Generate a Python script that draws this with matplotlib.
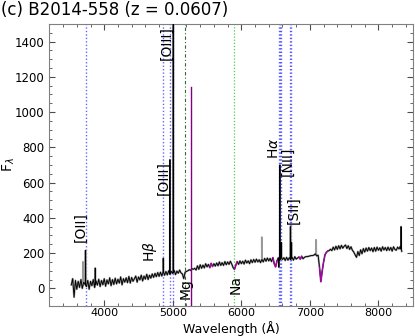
import numpy as np
import matplotlib
matplotlib.use("Agg")
import matplotlib.pyplot as plt
from matplotlib.ticker import MultipleLocator

# ---------------- data ----------------
wave_start, wave_step = 3520, 20
cont_flux = [
    20, 55, -50, 45, -5, 40, 5, 50, 0, 35,
    25, 10, 45, -5, 40, 15, 50, 5, 42, 18,
    52, 10, 45, 20, 55, 12, 48, 25, 60, 15,
    50, 22, 58, 25, 52, 30, 65, 20, 55, 35,
    60, 32, 68, 30, 62, 40, 55, 70, 35, 65,
    48, 75, 42, 70, 52, 80, 50, 75, 58, 82,
    62, 85, 66, 90, 68, 92, 70, 95, 74, 96,
    76, 100, 80, 96, 84, 102, 78, 98, 86, 104,
    88, 82, 55, 92, 96, 100, 106, 102, 112, 108,
    114, 104, 128, 108, 134, 114, 132, 116, 140, 122,
    136, 118, 142, 124, 140, 126, 144, 128, 150, 130,
    146, 130, 152, 134, 150, 136, 154, 138, 118, 108,
    132, 152, 136, 156, 140, 154, 138, 160, 144, 156,
    140, 162, 146, 164, 148, 166, 150, 162, 146, 164,
    150, 170, 154, 172, 156, 170, 152, 174, 140, 122,
    156, 174, 160, 176, 164, 174, 158, 176, 160, 174,
    164, 176, 160, 180, 166, 172, 178, 166, 182, 168,
    176, 180, 180, 182, 184, 186, 186, 189, 196, 184,
    188, 120, 38, 100, 150, 190, 204, 212, 214, 222,
    214, 234, 218, 239, 221, 242, 224, 244, 228, 239,
    246, 226, 242, 221, 236, 216, 206, 190, 176, 209,
    186, 219, 196, 226, 206, 229, 211, 232, 214, 229,
    208, 232, 211, 234, 216, 230, 211, 236, 218, 232,
    214, 234, 216, 232, 211, 236, 221, 216, 234, 224,
    238, 210,
]
# emission spikes seen in both spectra
line_wave = [3727, 3869, 4861, 4959, 5007, 6548, 6563, 6583, 6717, 6731, 8330]
line_peak = [215, 115, 170, 730, 2200, 120, 700, 260, 350, 260, 350]
# spikes only in the grey (observed) spectrum
grey_wave = [3690, 6300, 7090]
grey_peak = [150, 290, 275]
# bad-pixel spike (masked, purple)
bad_wave = [5268, 5268]
bad_flux = [-250, 1145]
# masked wavelength ranges (purple)
mask_ranges = [(5540, 5580), (5900, 5950), (6460, 6520),
               (6840, 6880), (7130, 7260)]

# reference lines
em_lines = [3727, 4861, 4959, 5007, 6548, 6563, 6583, 6717, 6731]
abs_lines = {"Mg": 5175, "Na": 5893}

labels = [
    ("[OII]", 3651, 349),
    (r"H$\beta$", 4670, 211),
    ("[OIII]", 4870, 628),
    ("[OIII]", 4916, 1389),
    ("Mg", 5193, 0),
    ("Na", 5919, 23),
    (r"H$\alpha$", 6471, 794),
    ("[NII]", 6675, 720),
    ("[SII]", 6762, 446),
]

title = "(c) B2014-558 (z = 0.0607)"

# ---------------- build spectrum ----------------
cont_flux = np.array(cont_flux, dtype=float)
wave = wave_start + wave_step * np.arange(len(cont_flux))


def add_spikes(w, f, sw, sp):
    ww, ff = list(w), list(f)
    for lw_, pk in zip(sw, sp):
        c = np.interp(lw_, w, f)
        ww += [lw_ - 2, lw_, lw_ + 2]
        ff += [c, pk, c]
    o = np.argsort(ww, kind="stable")
    return np.array(ww, dtype=float)[o], np.array(ff, dtype=float)[o]


bw, bf = add_spikes(wave, cont_flux, line_wave, line_peak)
gw, gf = add_spikes(bw, bf, grey_wave, grey_peak)

# ---------------- plot ----------------
fig = plt.figure(figsize=(4.15, 3.36), dpi=100)
ax = fig.add_axes([0.119, 0.0893, 0.8755, 0.8393])

for lam in em_lines:
    ax.axvline(lam, color="blue", ls=(0, (1, 1.5)), lw=1.0, alpha=0.6, zorder=1)
ax.axvline(abs_lines["Mg"], color="#1a5a1a", ls=(0, (3, 2, 1, 2)), lw=0.8, alpha=0.9, zorder=1)
ax.axvline(abs_lines["Na"], color="limegreen", ls=(0, (1, 1.5)), lw=0.9, alpha=0.9, zorder=1)

ax.plot(gw, gf, color="0.6", lw=1.4, zorder=2)
ax.plot(bw, bf, color="black", lw=0.65, zorder=3)

for lo, hi in mask_ranges:
    m = (bw >= lo) & (bw <= hi)
    ax.plot(bw[m], bf[m], color="#b000b0", lw=0.9, zorder=4)
ax.plot(bad_wave, bad_flux, color="#800080", lw=1.0, zorder=4)

for txt, x, y in labels:
    ax.text(x, y, txt, rotation=90, ha="center", va="center", fontsize=10, zorder=5)

ax.set_xlim(3200, 8500)
ax.set_ylim(-100, 1500)
ax.xaxis.set_major_locator(MultipleLocator(1000))
ax.xaxis.set_minor_locator(MultipleLocator(200))
ax.yaxis.set_major_locator(MultipleLocator(200))
ax.yaxis.set_minor_locator(MultipleLocator(50))
ax.tick_params(which="both", direction="in", top=True, right=True, colors="0.3",
               labelcolor="black", labelsize=8.5)
ax.tick_params(axis="x", pad=1.5, labelsize=8)
ax.tick_params(which="major", length=4)
ax.tick_params(which="minor", length=2)
for s in ax.spines.values():
    s.set_color("0.5")

ax.set_xlabel("Wavelength (Å)", fontsize=9)
ax.xaxis.set_label_coords(0.5, -0.052)
ax.set_ylabel(r"F$_\lambda$", fontsize=10)
ax.yaxis.set_label_coords(-0.088, 0.5)
fig.text(0.003, 0.97, title, fontsize=12, ha="left", va="center")

fig.savefig("out.png", dpi=100)
